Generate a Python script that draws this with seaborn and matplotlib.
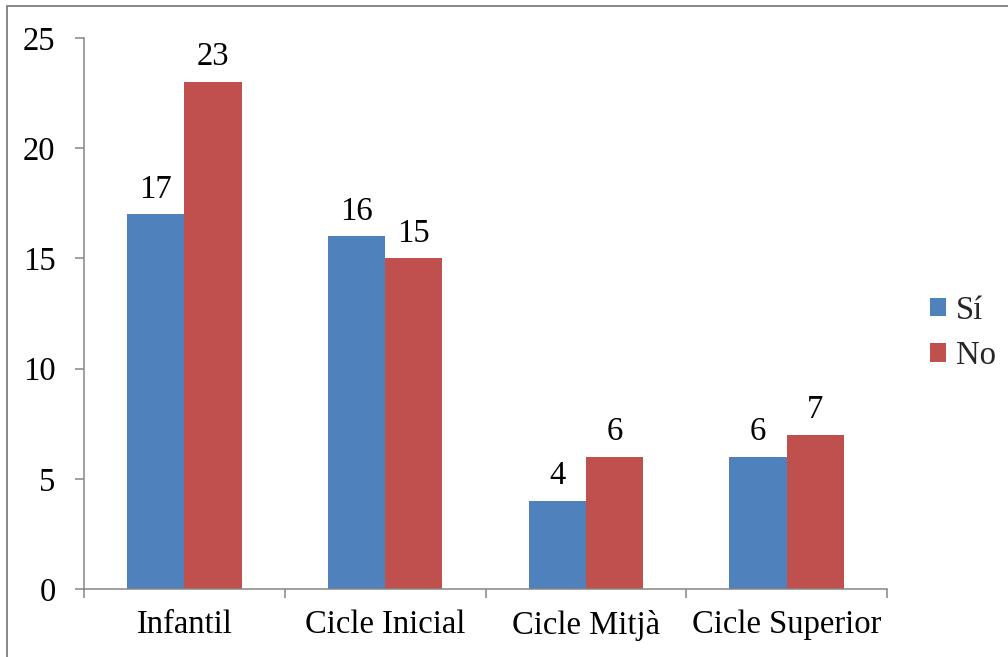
import pandas as pd
import seaborn as sns
import matplotlib.pyplot as plt
from matplotlib.patches import Rectangle
from matplotlib.ticker import FixedLocator

categories = ["Infantil", "Cicle Inicial", "Cicle Mitjà", "Cicle Superior"]
si_values = [17, 16, 4, 6]
no_values = [23, 15, 6, 7]
series = ["Sí", "No"]
colors = ["#4F81BD", "#C0504D"]

df = pd.DataFrame({
    "Cicle": categories * 2,
    "Resposta": [series[0]] * len(categories) + [series[1]] * len(categories),
    "Valor": si_values + no_values,
})

sns.set_theme(style="white")
plt.rcParams["font.family"] = ["Liberation Serif", "DejaVu Serif"]
FS = 23.5
GRAY = "#868686"

fig = plt.figure(figsize=(10.08, 6.57), dpi=100)
ax = fig.add_axes([84 / 1008, 1 - 589 / 657, (887 - 84) / 1008, (589 - 38) / 657])

sns.barplot(data=df, x="Cicle", y="Valor", hue="Resposta", palette=colors,
            saturation=1, width=0.57, gap=0, linewidth=0, ax=ax)

for cont in ax.containers:
    ax.bar_label(cont, fontsize=FS, padding=7, color="black")

ax.set_ylim(0, 25)
ax.set_yticks([0, 5, 10, 15, 20, 25])
ax.set_xlim(-0.5, len(categories) - 0.5)
ax.set_xlabel("")
ax.set_ylabel("")

ax.xaxis.set_minor_locator(FixedLocator([i - 0.5 for i in range(len(categories) + 1)]))
ax.tick_params(axis="x", which="major", length=0, pad=15, labelsize=FS, labelcolor="black")
ax.tick_params(axis="x", which="minor", length=6.5, width=1.1, color=GRAY, direction="out", bottom=True)
ax.tick_params(axis="y", length=6.5, width=1.1, color=GRAY, direction="out", left=True,
               pad=14, labelsize=FS, labelcolor="black")

for side in ["top", "right"]:
    ax.spines[side].set_visible(False)
for side in ["left", "bottom"]:
    ax.spines[side].set_color(GRAY)
    ax.spines[side].set_linewidth(1.1)

handles, labels = ax.get_legend_handles_labels()
ax.legend(handles, labels, loc="center left", bbox_to_anchor=(930 / 1008, 1 - 333 / 657),
          bbox_transform=fig.transFigure, frameon=False, fontsize=FS,
          handlelength=0.5, handleheight=0.5, handletextpad=0.3,
          labelspacing=0.45, borderpad=0, borderaxespad=0)

# outer chart border
fig.patches.append(Rectangle((7 / 1008, -0.1), 1.2, 1 - 6 / 657 + 0.1,
                             transform=fig.transFigure, fill=False,
                             edgecolor="#7f7f7f", linewidth=1.3))

fig.savefig("out.png", dpi=100)
